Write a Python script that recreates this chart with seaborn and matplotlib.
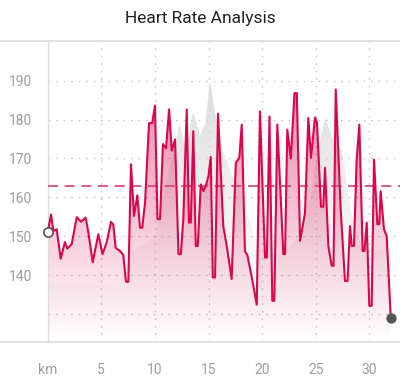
import numpy as np
import matplotlib
matplotlib.use("Agg")
import matplotlib.pyplot as plt
import seaborn as sns
from matplotlib.lines import Line2D

# ---- data ----
km = [0.00, 0.31, 0.52, 0.84, 1.21, 1.61, 1.83, 2.24, 2.71, 3.11, 3.54, 3.79, 4.20, 4.72,
      5.11, 5.50, 5.90, 6.12, 6.34, 6.74, 7.05, 7.30, 7.52, 7.77, 8.05, 8.36, 8.61, 8.82,
      9.08, 9.45, 9.75, 10.01, 10.24, 10.48, 10.75, 11.04, 11.32, 11.57, 11.88, 12.20,
      12.42, 12.65, 12.97, 13.18, 13.35, 13.58, 13.81, 14.00, 14.28, 14.53, 14.79, 15.00,
      15.21, 15.40, 15.61, 15.89, 16.38, 16.70, 17.16, 17.55, 17.87, 18.10, 18.40, 18.62,
      19.03, 19.50, 19.80, 20.27, 20.44, 20.69, 20.95, 21.14, 21.42, 21.98, 22.14, 22.35,
      22.68, 23.02, 23.24, 23.54, 24.00, 24.31, 24.56, 24.93, 25.12, 25.49, 25.71, 25.87,
      26.18, 26.49, 26.66, 26.87, 27.33, 27.73, 27.97, 28.20, 28.36, 28.57, 28.82, 29.07,
      29.38, 29.55, 29.76, 30.00, 30.22, 30.44, 30.75, 30.93, 31.06, 31.37, 31.62, 32.00]
hr = [151.1, 155.6, 151.4, 151.8, 144.2, 148.5, 146.8, 148.0, 154.9, 153.7, 154.8, 151.0,
      143.3, 150.5, 145.4, 148.4, 153.7, 153.0, 147.0, 146.2, 145.2, 138.3, 138.3, 168.5,
      155.2, 160.5, 152.2, 152.2, 158.6, 179.1, 179.1, 183.6, 154.4, 154.4, 173.7, 172.6,
      182.6, 172.0, 174.9, 145.4, 145.4, 154.4, 182.6, 153.5, 153.5, 177.0, 147.5, 147.5,
      163.3, 161.6, 163.3, 165.5, 170.4, 139.4, 139.4, 181.5, 152.6, 147.5, 139.0, 168.9,
      170.1, 178.7, 146.1, 145.2, 139.5, 132.4, 182.1, 144.5, 144.5, 180.8, 133.4, 133.4,
      178.7, 145.4, 145.4, 177.4, 170.0, 186.8, 186.8, 148.8, 156.0, 180.4, 170.2, 180.5,
      179.3, 157.6, 157.6, 167.6, 147.5, 142.4, 142.4, 187.7, 156.9, 138.5, 138.5, 152.6,
      147.5, 147.5, 169.7, 178.7, 146.2, 146.2, 153.5, 132.1, 132.1, 169.7, 153.1, 153.1,
      161.6, 151.8, 150.0, 129.1]

gray_km = [0.0, 3.9, 7.2, 7.7, 9.1, 10.0, 10.9, 11.6, 12.3, 12.9, 13.55, 14.2, 14.7, 15.14,
           15.6, 16.35, 17.2, 17.9, 18.4, 19.15, 19.5, 20.7, 22.1, 23.5, 24.5, 25.2, 25.87,
           26.6, 27.1, 27.45, 27.8, 28.2, 28.7, 29.1, 30.0, 32.0]
gray_hr = [137.5, 137.5, 137.0, 146.0, 148.0, 150.0, 162.0, 170.0, 179.0, 172.0, 182.0,
           176.0, 179.0, 190.0, 182.0, 172.0, 165.5, 163.0, 159.0, 151.0, 147.5, 145.0,
           146.0, 150.0, 160.0, 172.0, 180.5, 175.0, 173.0, 172.0, 165.0, 158.0, 152.0,
           149.0, 147.0, 146.0]

avg_hr = 163
x_ticks = [0, 5, 10, 15, 20, 25, 30]
x_tick_labels = ["km", "5", "10", "15", "20", "25", "30"]
y_ticks = [130, 140, 150, 160, 170, 180, 190]
y_tick_labels = ["", "140", "150", "160", "170", "180", "190"]
title = "Heart Rate Analysis"

# ---- style ----
sns.set_theme(style="white")
plt.rcParams['font.family'] = ['Roboto', 'DejaVu Sans']

RED = "#d9064b"
W, H = 400, 387
fig = plt.figure(figsize=(W / 100, H / 100), dpi=100)
x0px, top_px, bot_px = 47.7, 41, 342
ax = fig.add_axes([x0px / W, (H - bot_px) / H, 1 - x0px / W, (bot_px - top_px) / H])

ymin, ymax = 122.8, 200.2
xmin, xmax = 0, (W - x0px) / 10.72


def grad_fill(x, y, rgb, a_top, a_bot, ytop, zorder, gamma=1.0):
    poly = ax.fill_between(x, y, ymin, color='none', lw=0)
    path = poly.get_paths()[0]
    n = 256
    img = np.zeros((n, 1, 4))
    img[..., :3] = matplotlib.colors.to_rgb(rgb)
    img[..., 3] = a_bot + (a_top - a_bot) * np.linspace(1, 0, n)[:, None] ** gamma
    im = ax.imshow(img, aspect='auto', extent=[xmin, xmax, ymin, ytop],
                   origin='upper', zorder=zorder, interpolation='bilinear')
    im.set_clip_path(path, ax.transData)


grad_fill(gray_km, gray_hr, "#dcdcdc", 1.0, 0.0, 190, 1, gamma=1.5)
grad_fill(km, hr, RED, 0.5, 0.0, 192, 2)

sns.lineplot(x=km, y=hr, ax=ax, color=RED, lw=1.5, estimator=None, sort=False, zorder=4)
ax.axhline(avg_hr, color="#d2406c", lw=1.2, dashes=(6, 4), zorder=3)

ax.scatter([km[0]], [hr[0]], s=45, facecolor='white', edgecolor='#555555', lw=1.2,
           zorder=6, clip_on=False)
ax.scatter([km[-1]], [hr[-1]], s=55, facecolor='#555555', edgecolor='#555555', lw=0,
           zorder=6, clip_on=False)

ax.set_xlim(xmin, xmax)
ax.set_ylim(ymin, ymax)
ax.set_xticks(x_ticks)
ax.set_xticklabels(x_tick_labels)
ax.set_yticks(y_ticks)
ax.set_yticklabels(y_tick_labels)
ax.tick_params(axis='both', length=0, labelsize=10, labelcolor='#9e9e9e')
ax.tick_params(axis='x', pad=15)
ax.tick_params(axis='y', pad=11)

for yv in y_ticks:
    ax.axhline(yv, color='#c8c8c8', lw=0.9, dashes=(1.5, 4.5), zorder=0.5)
for xv in x_ticks[1:]:
    ax.axvline(xv, color='#c8c8c8', lw=0.9, dashes=(1.5, 4.5), zorder=0.5)

for s in ['top', 'right', 'bottom']:
    ax.spines[s].set_visible(False)
ax.spines['left'].set_color('#dddddd')
ax.spines['left'].set_linewidth(1)

for ypx in (top_px, bot_px):
    yf = (H - ypx) / H
    fig.add_artist(Line2D([0, 1], [yf, yf], color='#dedede', lw=1.2))

fig.text(0.5, 1 - 19 / H, title, ha='center', va='center', fontsize=12.5, color='#222222')

fig.savefig("out.png", dpi=100)
